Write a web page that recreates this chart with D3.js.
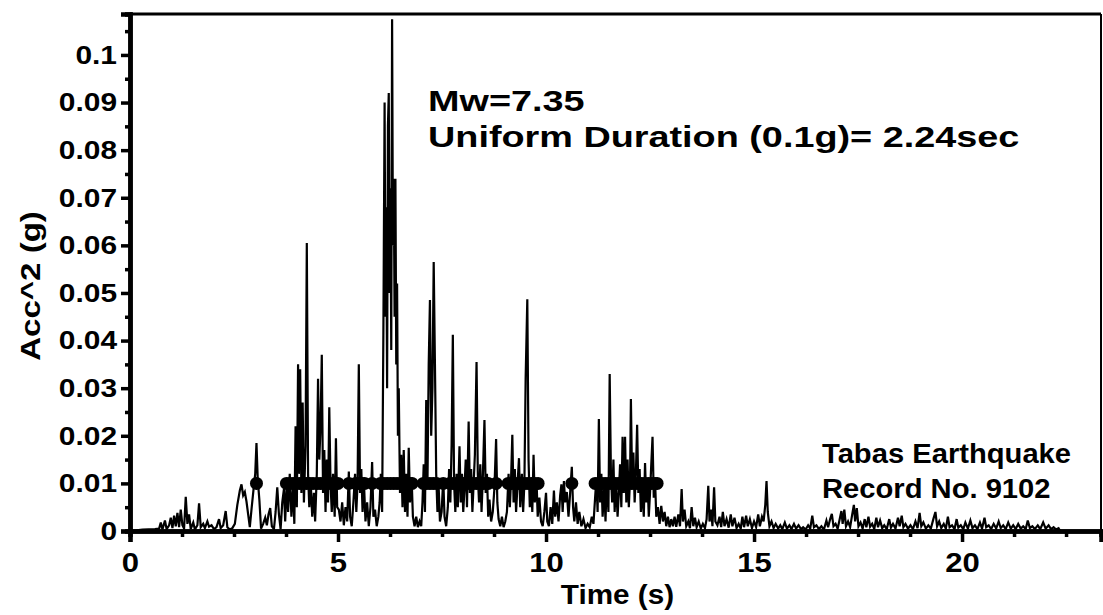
<!DOCTYPE html>
<html>
<head>
<meta charset="utf-8">
<script src="https://cdn.jsdelivr.net/npm/d3@7"></script>
<style>
  body { margin: 0; background: #fff; }
  text { font-family: "Liberation Sans", Arial, sans-serif; font-weight: bold; fill: #000; }
</style>
</head>
<body>
<div id="canvas"></div>
<script>
/*
  Squared acceleration record, Tabas earthquake (record 9102).
  Values. */

/*
Time (s) and Acc^2 (g) pairs, read peak by peak */
var record = [
  [0,0],[0.3,0.0003],[0.6,0.0004],
  [0.70,0.0005],[0.74,0.0018],[0.78,0.0003],[0.84,0.0022],[0.88,0.0004],[0.94,0.0012],[0.98,0.0028],
  [1.02,0.0006],[1.06,0.0032],[1.10,0.001],[1.14,0.0038],[1.18,0.0008],[1.22,0.0045],[1.26,0.0012],
  [1.30,0.0005],[1.34,0.0072],[1.38,0.0015],[1.42,0.0035],[1.46,0.0004],[1.52,0.0018],[1.56,0.0003],
  [1.62,0.0012],[1.66,0.0058],[1.70,0.0008],[1.76,0.0015],[1.80,0.0006],[1.86,0.002],[1.90,0.0009],
  [1.96,0.0012],[2.02,0.0004],[2.08,0.0008],[2.14,0.0025],[2.18,0.0006],[2.24,0.0012],[2.30,0.0042],
  [2.34,0.0008],[2.40,0.0003],[2.46,0.0006],[2.52,0.0015],[2.58,0.0055],[2.64,0.0085],[2.68,0.0098],
  [2.72,0.0075],[2.76,0.0082],[2.80,0.0062],[2.84,0.0035],[2.88,0.0008],[2.92,0.0045],[2.97,0.0088],
  [3.01,0.012],[3.04,0.0185],[3.07,0.011],[3.11,0.0065],[3.15,0.0005],[3.20,0.0015],[3.25,0.0028],
  [3.29,0.0012],[3.33,0.0035],[3.37,0.0048],[3.41,0.0010],[3.46,0.0004],[3.50,0.004],[3.54,0.0092],
  [3.58,0.0035],[3.62,0.0004],[3.66,0.006],[3.70,0.0088],[3.73,0.002],[3.77,0.0105],[3.80,0.004],
  [3.84,0.012],[3.88,0.003],[3.92,0.0095],[3.95,0.0015],[3.98,0.022],[4.01,0.005],[4.04,0.035],
  [4.06,0.012],[4.09,0.034],[4.12,0.008],[4.15,0.027],[4.18,0.006],[4.22,0.018],[4.25,0.0605],
  [4.28,0.012],[4.31,0.005],[4.34,0.011],[4.38,0.003],[4.42,0.008],[4.45,0.002],[4.49,0.012],
  [4.52,0.032],[4.55,0.015],[4.58,0.022],[4.61,0.037],[4.64,0.008],[4.67,0.017],[4.70,0.004],
  [4.73,0.015],[4.76,0.006],[4.79,0.026],[4.82,0.010],[4.85,0.004],[4.88,0.012],[4.92,0.003],
  [4.95,0.0195],[4.98,0.005],[5.02,0.0045],[5.06,0.002],[5.10,0.006],[5.14,0.0012],[5.18,0.005],
  [5.22,0.002],[5.26,0.0125],[5.29,0.003],[5.33,0.001],[5.37,0.006],[5.41,0.012],[5.44,0.004],
  [5.47,0.010],[5.50,0.035],[5.53,0.008],[5.56,0.013],[5.59,0.004],[5.62,0.011],[5.66,0.002],
  [5.70,0.006],[5.74,0.001],[5.78,0.005],[5.82,0.0145],[5.85,0.003],[5.89,0.0045],[5.93,0.001],
  [5.97,0.003],[6.00,0.006],[6.03,0.012],[6.06,0.004],[6.09,0.041],[6.12,0.09],[6.14,0.045],
  [6.16,0.068],[6.18,0.03],[6.20,0.085],[6.22,0.092],[6.24,0.05],[6.26,0.072],[6.28,0.038],
  [6.30,0.1075],[6.32,0.06],[6.34,0.074],[6.36,0.045],[6.38,0.074],[6.40,0.035],[6.42,0.052],
  [6.44,0.02],[6.46,0.03],[6.49,0.008],[6.52,0.016],[6.55,0.005],[6.58,0.017],[6.61,0.004],
  [6.64,0.012],[6.67,0.003],[6.70,0.0175],[6.73,0.006],[6.77,0.011],[6.80,0.003],[6.84,0.001],
  [6.88,0.003],[6.92,0.0008],[6.96,0.002],[7.00,0.001],[7.03,0.006],[7.06,0.014],[7.09,0.004],
  [7.12,0.0275],[7.15,0.01],[7.18,0.035],[7.21,0.0485],[7.24,0.02],[7.27,0.03],[7.30,0.0565],
  [7.33,0.035],[7.36,0.012],[7.39,0.004],[7.42,0.009],[7.45,0.002],[7.49,0.004],[7.53,0.011],
  [7.56,0.003],[7.60,0.001],[7.64,0.005],[7.67,0.013],[7.70,0.006],[7.73,0.018],[7.76,0.0412],
  [7.79,0.01],[7.82,0.004],[7.85,0.012],[7.88,0.005],[7.92,0.0178],[7.95,0.006],[7.98,0.012],
  [8.01,0.004],[8.04,0.009],[8.07,0.015],[8.10,0.005],[8.14,0.023],[8.17,0.008],[8.20,0.013],
  [8.23,0.004],[8.26,0.01],[8.29,0.016],[8.33,0.0355],[8.36,0.012],[8.39,0.006],[8.42,0.014],
  [8.45,0.004],[8.48,0.011],[8.52,0.0233],[8.55,0.008],[8.58,0.012],[8.61,0.003],[8.64,0.0066],
  [8.68,0.002],[8.72,0.004],[8.76,0.009],[8.80,0.0193],[8.83,0.006],[8.86,0.0025],[8.90,0.001],
  [8.94,0.003],[8.98,0.0008],[9.02,0.002],[9.06,0.004],[9.10,0.012],[9.13,0.005],[9.16,0.011],
  [9.19,0.0202],[9.22,0.006],[9.25,0.013],[9.28,0.004],[9.31,0.009],[9.35,0.0153],[9.38,0.005],
  [9.42,0.012],[9.45,0.004],[9.48,0.01],[9.51,0.032],[9.55,0.0487],[9.58,0.015],[9.61,0.005],
  [9.64,0.011],[9.67,0.004],[9.70,0.016],[9.73,0.006],[9.77,0.011],[9.80,0.003],[9.84,0.007],
  [9.88,0.002],[9.92,0.001],[9.96,0.004],[10.00,0.008],[10.03,0.002],[10.07,0.001],[10.11,0.005],
  [10.15,0.0015],[10.19,0.0085],[10.22,0.003],[10.26,0.006],[10.30,0.002],[10.34,0.0075],
  [10.37,0.0098],[10.40,0.004],[10.43,0.0105],[10.46,0.006],[10.50,0.0082],[10.54,0.003],
  [10.58,0.008],[10.62,0.0135],[10.65,0.005],[10.68,0.002],[10.72,0.006],[10.76,0.0015],
  [10.80,0.004],[10.85,0.001],[10.90,0.0025],[10.95,0.0006],[11.00,0.0015],[11.05,0.0008],
  [11.10,0.003],[11.14,0.0015],[11.18,0.007],[11.21,0.011],[11.24,0.004],[11.27,0.0235],
  [11.30,0.006],[11.33,0.012],[11.36,0.003],[11.40,0.009],[11.43,0.002],[11.46,0.011],[11.50,0.004],
  [11.53,0.033],[11.56,0.012],[11.59,0.006],[11.62,0.015],[11.65,0.004],[11.68,0.011],[11.72,0.003],
  [11.75,0.008],[11.78,0.014],[11.81,0.005],[11.84,0.0198],[11.87,0.008],[11.90,0.0198],[11.93,0.006],
  [11.96,0.015],[11.99,0.005],[12.02,0.011],[12.04,0.0277],[12.07,0.01],[12.10,0.0165],[12.13,0.006],
  [12.16,0.012],[12.19,0.0223],[12.22,0.008],[12.25,0.013],[12.28,0.004],[12.31,0.009],[12.35,0.003],
  [12.38,0.0143],[12.41,0.006],[12.44,0.011],[12.47,0.003],[12.50,0.008],[12.53,0.014],[12.56,0.0198],
  [12.59,0.007],[12.62,0.011],[12.65,0.003],[12.69,0.005],[12.73,0.0015],[12.77,0.0053],[12.81,0.002],
  [12.85,0.004],[12.89,0.001],[12.93,0.003],[12.97,0.0008],[13.01,0.0025],[13.05,0.001],[13.09,0.003],
  [13.13,0.0009],[13.18,0.0035],[13.22,0.001],[13.26,0.0088],[13.29,0.002],[13.33,0.0045],[13.37,0.001],
  [13.42,0.002],[13.46,0.0006],[13.50,0.005],[13.54,0.001],[13.58,0.0028],[13.62,0.0008],[13.67,0.002],
  [13.72,0.0005],[13.77,0.0015],[13.82,0.0006],[13.86,0.0025],[13.90,0.0095],[13.93,0.002],
  [13.97,0.0045],[14.00,0.001],[14.04,0.0092],[14.07,0.002],[14.12,0.0012],[14.17,0.003],[14.21,0.0008],
  [14.25,0.004],[14.29,0.001],[14.34,0.0025],[14.39,0.0007],[14.44,0.0035],[14.48,0.001],[14.53,0.0028],
  [14.58,0.0006],[14.63,0.0015],[14.68,0.0005],[14.72,0.003],[14.76,0.0008],[14.81,0.0032],[14.85,0.001],
  [14.90,0.0025],[14.95,0.0006],[15.00,0.002],[15.05,0.0008],[15.10,0.0035],[15.14,0.001],[15.19,0.003],
  [15.23,0.002],[15.27,0.0055],[15.30,0.0105],[15.33,0.004],[15.37,0.001],[15.42,0.002],[15.47,0.0006],
  [15.52,0.0015],[15.58,0.0005],[15.63,0.0012],[15.68,0.0004],[15.74,0.0018],[15.79,0.0005],
  [15.85,0.0012],[15.90,0.0004],[15.96,0.0015],[16.01,0.0005],[16.07,0.0012],[16.13,0.0004],
  [16.18,0.0008],[16.24,0.0003],[16.30,0.0012],[16.35,0.0005],[16.40,0.0032],[16.44,0.0008],
  [16.50,0.0012],[16.56,0.0004],[16.62,0.001],[16.68,0.0003],[16.74,0.0022],[16.78,0.0008],
  [16.83,0.0025],[16.87,0.0036],[16.91,0.001],[16.96,0.0015],[17.01,0.0005],[17.06,0.0025],
  [17.10,0.0042],[17.13,0.0015],[17.17,0.0045],[17.21,0.001],[17.26,0.002],[17.31,0.0008],
  [17.36,0.0035],[17.40,0.0055],[17.43,0.002],[17.47,0.0048],[17.51,0.001],[17.56,0.0018],
  [17.61,0.0005],[17.66,0.0025],[17.70,0.0008],[17.75,0.003],[17.79,0.0009],[17.84,0.0015],
  [17.89,0.0004],[17.94,0.0028],[17.98,0.0008],[18.03,0.0022],[18.08,0.0006],[18.13,0.0012],
  [18.19,0.0004],[18.25,0.0025],[18.29,0.0007],[18.34,0.0015],[18.40,0.0005],[18.46,0.0028],
  [18.50,0.001],[18.55,0.0032],[18.59,0.0008],[18.64,0.0015],[18.70,0.0005],[18.76,0.0012],
  [18.82,0.0004],[18.88,0.002],[18.93,0.0006],[18.98,0.0038],[19.02,0.001],[19.07,0.0018],
  [19.13,0.0005],[19.19,0.0012],[19.25,0.0005],[19.31,0.0025],[19.36,0.004],[19.40,0.001],
  [19.45,0.002],[19.50,0.0006],[19.56,0.0015],[19.61,0.0005],[19.66,0.003],[19.70,0.0008],
  [19.76,0.0012],[19.82,0.0004],[19.87,0.0025],[19.91,0.0007],[19.97,0.0012],[20.03,0.0004],
  [20.08,0.0018],[20.14,0.0005],[20.20,0.0022],[20.25,0.0006],[20.31,0.0012],[20.37,0.0004],
  [20.43,0.0018],[20.48,0.0005],[20.54,0.0028],[20.58,0.0008],[20.64,0.0012],[20.70,0.0004],
  [20.76,0.0015],[20.82,0.0005],[20.88,0.002],[20.93,0.0006],[20.99,0.0012],[21.05,0.0004],
  [21.11,0.0018],[21.17,0.0005],[21.23,0.0012],[21.29,0.0004],[21.35,0.0015],[21.41,0.0005],
  [21.47,0.001],[21.53,0.0004],[21.58,0.0022],[21.63,0.0006],[21.69,0.001],[21.75,0.0004],
  [21.82,0.0012],[21.88,0.0004],[21.95,0.0018],[22.01,0.0005],[22.08,0.0012],[22.14,0.0004],
  [22.20,0.0008],[22.26,0.0003],[22.32,0.0006],[22.36,0]
];

/*
Times of samples above the 0.1g threshold, drawn as dots on the 0.01 line */
var exceed_times = [
  3.04,
  3.76, 3.84, 3.92, 4.00, 4.08, 4.16, 4.24, 4.32, 4.40,
  4.50, 4.58, 4.66, 4.74, 4.82, 4.92, 5.00,
  5.26,
  5.42, 5.50, 5.58, 5.64,
  5.82,
  6.02, 6.10, 6.18, 6.26, 6.34, 6.42, 6.50, 6.58, 6.66, 6.74, 6.78,
  7.05, 7.13, 7.21, 7.29, 7.37,
  7.53,
  7.69, 7.77, 7.85, 7.93, 8.01, 8.09, 8.17, 8.25, 8.33, 8.41, 8.49, 8.57, 8.61,
  8.80,
  9.09, 9.17, 9.25, 9.33, 9.41, 9.49, 9.57, 9.65, 9.73, 9.81,
  10.62,
  11.18, 11.26, 11.34, 11.42, 11.50, 11.58, 11.66, 11.74, 11.82, 11.90, 11.98,
  12.06, 12.14, 12.22, 12.30, 12.38, 12.46, 12.54, 12.62, 12.67
];
var threshold = 0.01;

/*
Axis ticks */
var x_major_ticks = [0, 5, 10, 15, 20];
var x_minor_ticks = [1.25, 2.5, 3.75, 6.25, 7.5, 8.75, 11.25, 12.5, 13.75, 16.25, 17.5, 18.75, 21.25, 22.5];
var y_major_ticks = [0, 0.01, 0.02, 0.03, 0.04, 0.05, 0.06, 0.07, 0.08, 0.09, 0.1];
var y_minor_ticks = [0.005, 0.015, 0.025, 0.035, 0.045, 0.055, 0.065, 0.075, 0.085, 0.095, 0.105];

var x_title = "Time (s)";
var y_title = "Acc^2 (g)";
var note_top = ["Mw=7.35", "Uniform Duration (0.1g)= 2.24sec"];
var note_bottom = ["Tabas Earthquake", "Record No. 9102"];

var W = 1103, H = 615;
var x0 = 130, x1 = 1101, y0 = 531, y1 = 14;

var svg = d3.select("#canvas").append("svg")
    .attr("width", W).attr("height", H);

var x = d3.scaleLinear().domain([0, 23.34]).range([x0, x1]);
var y = d3.scaleLinear().domain([0, 0.1086]).range([y0, y1]);

/*
Stretch a text horizontally, the scan is wider than tall */
function stretch(sel, k) {
  sel.each(function() {
    var w = this.getComputedTextLength();
    d3.select(this).attr("textLength", w * k).attr("lengthAdjust", "spacingAndGlyphs");
  });
}

// signal line
svg.append("path")
    .datum(record)
    .attr("fill", "none")
    .attr("stroke", "#000")
    .attr("stroke-width", 2.2)
    .attr("stroke-linejoin", "miter")
    .attr("d", d3.line().x(function(d) { return x(d[0]); }).y(function(d) { return y(d[1]); }));

// threshold dots
svg.append("g").selectAll("circle")
    .data(exceed_times)
    .join("circle")
    .attr("cx", function(d) { return x(d); })
    .attr("cy", y(threshold))
    .attr("r", 6.5)
    .attr("fill", "#000");

// frame: top and right thinner
svg.append("line").attr("x1", x0).attr("x2", x1).attr("y1", y1).attr("y2", y1)
    .attr("stroke", "#000").attr("stroke-width", 3);
svg.append("line").attr("x1", x1).attr("x2", x1).attr("y1", y1).attr("y2", y0)
    .attr("stroke", "#000").attr("stroke-width", 2);

// x axis
var xg = svg.append("g").attr("transform", "translate(0," + y0 + ")");
xg.call(d3.axisBottom(x).tickValues(x_minor_ticks).tickSize(6).tickFormat(""));
xg.call(function(g) {
  g.append("g").call(d3.axisBottom(x).tickValues(x_major_ticks).tickSize(11).tickPadding(9)
      .tickFormat(d3.format("d")));
});
xg.selectAll(".domain").attr("stroke-width", 4.5);
xg.selectAll(".tick line").attr("stroke-width", 3.5);
xg.selectAll(".tick text").attr("font-size", 27).attr("dy", "0.78em").attr("fill", "#000");

// y axis
var yg = svg.append("g").attr("transform", "translate(" + x0 + ",0)");
yg.call(d3.axisLeft(y).tickValues(y_minor_ticks).tickSize(5).tickFormat(""));
yg.call(function(g) {
  g.append("g").call(d3.axisLeft(y).tickValues(y_major_ticks).tickSize(9).tickPadding(4)
      .tickFormat(function(d) { return d === 0 ? "0" : d3.format(".2~f")(d); }));
});
yg.selectAll(".domain").attr("stroke-width", 4.5);
yg.selectAll(".tick line").attr("stroke-width", 3.5);
yg.selectAll(".tick text").attr("font-size", 26).attr("fill", "#000");

svg.selectAll(".tick text").call(stretch, 1.15);

// axis titles
svg.append("text")
    .attr("x", (x0 + x1) / 2 + 2).attr("y", 604)
    .attr("text-anchor", "middle").attr("font-size", 27)
    .text(x_title).call(stretch, 1.1);

svg.append("text")
    .attr("transform", "translate(40,286) rotate(-90)")
    .attr("text-anchor", "middle").attr("font-size", 28)
    .text(y_title).call(stretch, 1.18);

// annotations
svg.append("g").selectAll("text")
    .data(note_top)
    .join("text")
    .attr("x", 428)
    .attr("y", function(d, i) { return 111 + i * 36; })
    .attr("font-size", 30)
    .text(function(d) { return d; })
    .call(stretch, 1.26);

svg.append("g").selectAll("text")
    .data(note_bottom)
    .join("text")
    .attr("x", 822)
    .attr("y", function(d, i) { return 463 + i * 35; })
    .attr("font-size", 27)
    .text(function(d) { return d; })
    .call(stretch, 1.08);
</script>
</body>
</html>
